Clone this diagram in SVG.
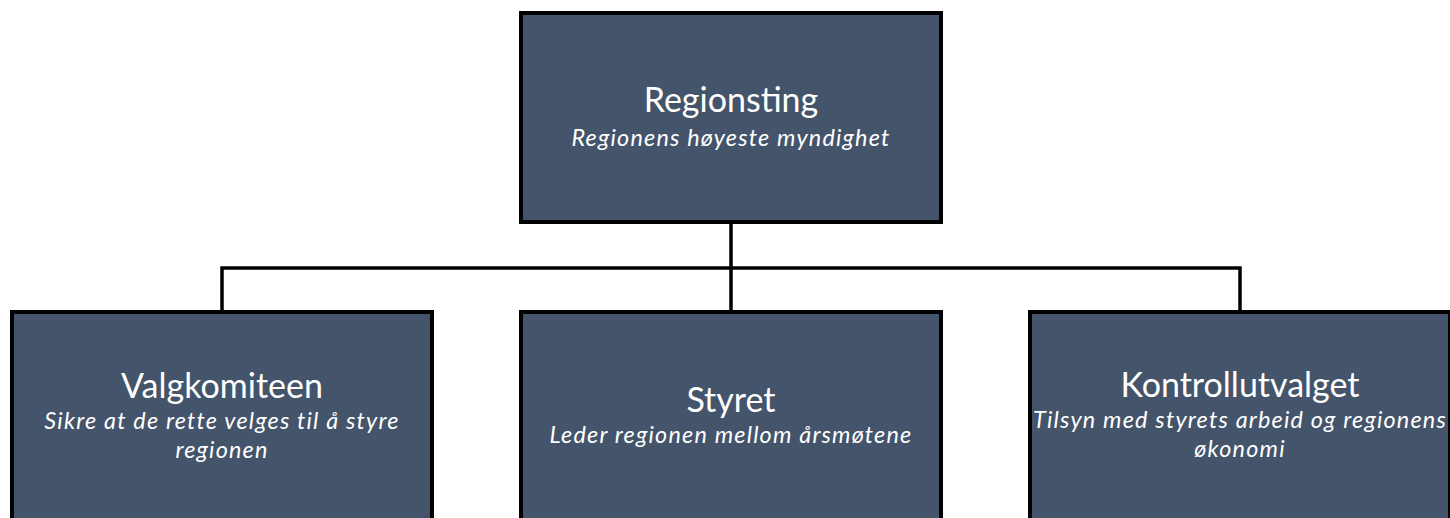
<svg xmlns="http://www.w3.org/2000/svg" width="1450" height="518" viewBox="0 0 1450 518">
  <style>
    .box { fill: #44546A; stroke: #000000; stroke-width: 4; }
    .title { font-family: Lato, "Open Sans", sans-serif; font-size: 34px; fill: #FFFFFF; text-anchor: middle; }
    .sub { font-family: Lato, "Open Sans", sans-serif; font-size: 23.4px; letter-spacing: 1.2px; font-style: italic; fill: #FFFFFF; text-anchor: middle; }
    .conn { fill: none; stroke: #000000; stroke-width: 3.5; }
  </style>
  <rect width="1450" height="518" fill="#FFFFFF"/>
  <g id="connectors">
    <path class="conn" d="M731 222 V312"/>
    <path class="conn" d="M222 312 V268 H1240 V312"/>
  </g>
  <g id="regionsting">
    <rect class="box" x="521" y="13" width="420" height="209"/>
    <text class="title" x="731" y="112">Regionsting</text>
    <text class="sub" x="731" y="146">Regionens høyeste myndighet</text>
  </g>
  <g id="valgkomiteen">
    <rect class="box" x="12" y="312" width="420" height="209"/>
    <text class="title" x="222" y="398">Valgkomiteen</text>
    <text class="sub" x="222" y="429">Sikre at de rette velges til å styre<tspan x="222" dy="28.5">regionen</tspan></text>
  </g>
  <g id="styret">
    <rect class="box" x="521" y="312" width="420" height="209"/>
    <text class="title" x="731" y="412">Styret</text>
    <text class="sub" x="731" y="443">Leder regionen mellom årsmøtene</text>
  </g>
  <g id="kontrollutvalget">
    <rect class="box" x="1030" y="312" width="420" height="209"/>
    <text class="title" x="1240" y="397">Kontrollutvalget</text>
    <text class="sub" x="1240" y="428">Tilsyn med styrets arbeid og regionens<tspan x="1240" dy="29">økonomi</tspan></text>
  </g>
</svg>
